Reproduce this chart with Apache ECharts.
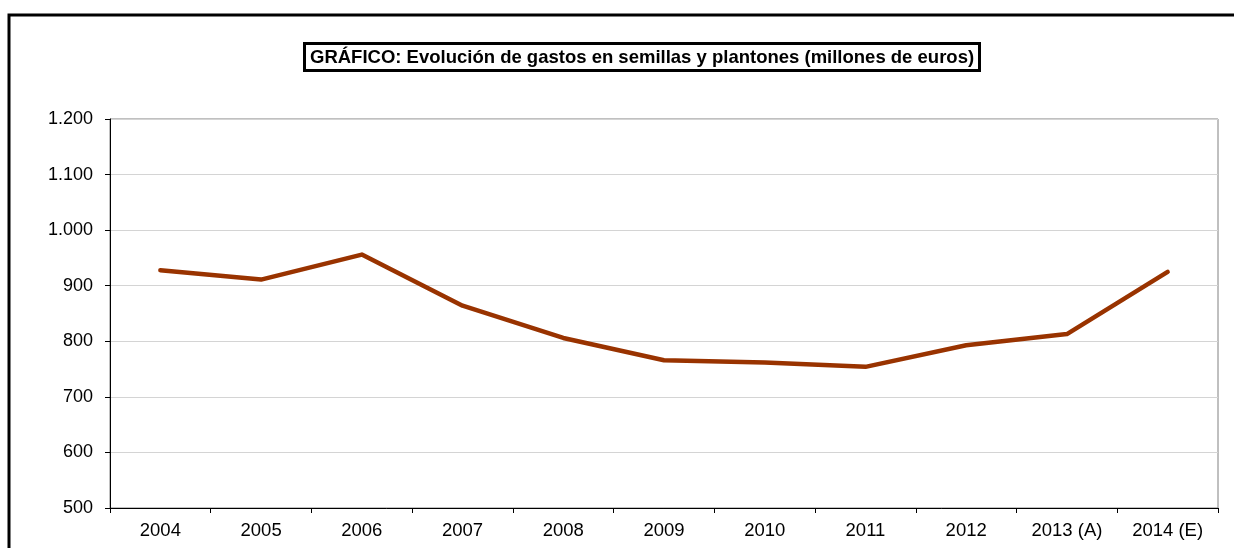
<!DOCTYPE html>
<html>
<head>
<meta charset="utf-8">
<script src="https://cdn.jsdelivr.net/npm/echarts@6/dist/echarts.min.js"></script>
<style>
html,body{margin:0;padding:0;background:#fff;}
#c{width:1234px;height:548px;}
</style>
</head>
<body>
<div id="c"></div>
<script>
const titleText = 'GRÁFICO: Evolución de gastos en semillas y plantones (millones de euros)';
const categories = ['2004','2005','2006','2007','2008','2009','2010','2011','2012','2013 (A)','2014 (E)'];
const gastos = [928, 911, 956, 864, 806, 766, 762, 754, 793, 813, 925];
const yMin = 500, yMax = 1200, yStep = 100;

function fmt(v){
  return String(v).replace(/\B(?=(\d{3})+(?!\d))/g, '.');
}

const chart = echarts.init(document.getElementById('c'), null, {renderer:'canvas'});
chart.setOption({
  animation:false,
  backgroundColor:'#fff',
  textStyle:{fontFamily:'"Liberation Sans", Arial, sans-serif'},
  title:{
    text:titleText,
    left:304, top:43,
    padding:[5,6,3,6],
    borderColor:'#000', borderWidth:3,
    textStyle:{fontSize:18.5, fontWeight:'bold', color:'#000', lineHeight:20, fontFamily:'"Liberation Sans", Arial, sans-serif'}
  },
  graphic:[{
    type:'rect', silent:true, z:-1,
    shape:{x:9, y:15, width:1300, height:700},
    style:{fill:'none', stroke:'#000', lineWidth:3}
  }],
  grid:{left:110, right:16, top:119, bottom:40, show:true, borderColor:'#808080', borderWidth:1, containLabel:false},
  xAxis:{
    type:'category', data:categories, boundaryGap:true,
    axisLine:{lineStyle:{color:'#000', width:1}},
    axisTick:{show:true, length:5, lineStyle:{color:'#000'}, alignWithLabel:false},
    axisLabel:{color:'#000', fontSize:18.5, margin:13, interval:0},
    splitLine:{show:false}
  },
  yAxis:{
    type:'value', min:yMin, max:yMax, interval:yStep,
    axisLine:{show:true, lineStyle:{color:'#000', width:1}},
    axisTick:{show:true, length:5, lineStyle:{color:'#000'}},
    axisLabel:{color:'#000', fontSize:18, margin:17, formatter:fmt},
    splitLine:{show:true, lineStyle:{color:'#d4d4d4', width:1}}
  },
  series:[{
    type:'line', data:gastos, symbol:'none',
    lineStyle:{color:'#993300', width:4.5, cap:'round', join:'round'},
    itemStyle:{color:'#993300'}
  }]
});
</script>
</body>
</html>
